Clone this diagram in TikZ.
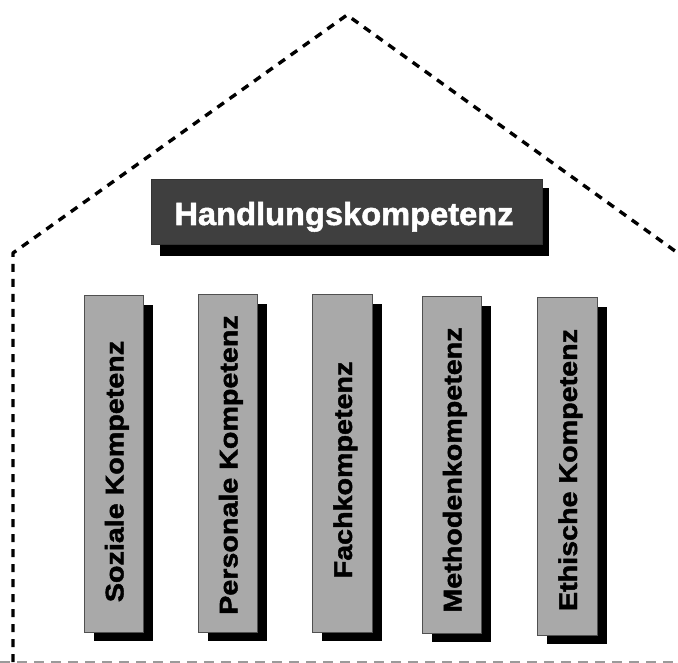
\documentclass[tikz,border=0pt]{standalone}
\usepackage{fontspec}
\setmainfont{Liberation Sans}
\newfontfamily\heavyfont{Liberation Sans Bold}[FakeBold=1.6]
\definecolor{pillarfill}{HTML}{A9A9A9}
\definecolor{pillarline}{HTML}{505050}
\definecolor{titlefill}{HTML}{3F3F3F}
\definecolor{groundgray}{HTML}{9A9A9A}
\tikzset{
  roofline/.style={line width=3.4pt, dash pattern=on 8pt off 7pt, line join=round},
  groundline/.style={groundgray, line width=2pt, dash pattern=on 10pt off 7pt},
  shadowbox/.style={fill=black},
  pillarbox/.style={fill=pillarfill, draw=pillarline, line width=1pt},
  titlebox/.style={fill=titlefill, draw=black!80, line width=1pt},
  pillartext/.style={rotate=90, anchor=base, inner sep=0pt, font=\heavyfont\fontsize{25.6}{26}\selectfont},
  titletext/.style={anchor=base, inner sep=0pt, text=white, font=\heavyfont\fontsize{32}{32}\selectfont}
}
\newcommand{\pillar}[6]{%
  \fill[shadowbox] (#1+10,#2+9) rectangle (#3+10,#4+9);
  \draw[pillarbox] (#1,#2) rectangle (#3,#4);
  \node[pillartext] (#6) at ({(#1+#3)/2+10},#5) {\scalebox{1.12}[1]{#6}};
}
\begin{document}
\begin{tikzpicture}[x=1pt,y=-1pt]
\useasboundingbox (0,0) rectangle (678,663);
% house outline
\coordinate (wallfoot) at (13,662);
\coordinate (eaveL) at (13,253);
\coordinate (apex) at (347,15);
\coordinate (eaveR) at (675,251);
\draw[roofline] (wallfoot) -- (eaveL) -- (apex) -- (eaveR);
\coordinate (groundL) at (0,661.5);
\coordinate (groundR) at (678,661.5);
\draw[groundline] (groundL) -- (groundR);
% title
\fill[shadowbox] (160,188) rectangle (549,256);
\draw[titlebox] (151,180) rectangle (542,245);
\node[titletext] (title) at (344,225) {\scalebox{1.02}[1]{Handlungskompetenz}};
% pillars
\pillar{84}{296}{143}{632}{471.5}{Soziale Kompetenz}
\pillar{198}{295}{257}{632}{465}{Personale Kompetenz}
\pillar{312}{295}{372}{632}{470}{Fachkompetenz}
\pillar{422}{297}{481}{633}{470}{Methodenkompetenz}
\pillar{537}{298}{597}{635}{470}{Ethische Kompetenz}
\end{tikzpicture}
\end{document}
